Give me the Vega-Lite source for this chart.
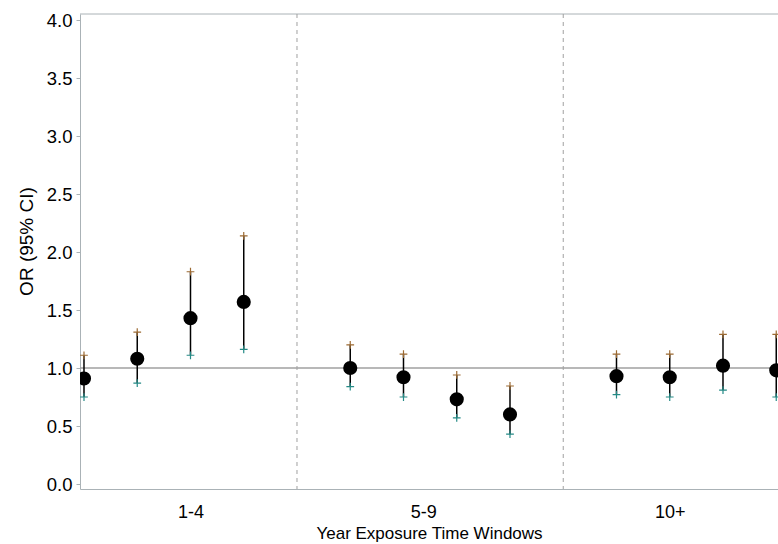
{
  "$schema": "https://vega.github.io/schema/vega-lite/v6.json",
  "autosize": {"type": "none"},
  "width": 698,
  "height": 475,
  "padding": {"left": 80, "top": 14, "right": 0, "bottom": 55},
  "background": "white",
  "config": {
    "view": {"stroke": null},
    "font": "Liberation Sans",
    "axis": {"labelFont": "Liberation Sans", "titleFont": "Liberation Sans", "labelColor": "black", "titleColor": "black", "titleFontWeight": "normal", "grid": false, "domainColor": "#aab2b6", "tickColor": "#aab2b6"}
  },
  "datasets": {
    "est": [
      {"k": 0, "grp": "1-4", "or": 0.91, "lo": 0.75, "hi": 1.11},
      {"k": 1, "grp": "1-4", "or": 1.08, "lo": 0.87, "hi": 1.31},
      {"k": 2, "grp": "1-4", "or": 1.43, "lo": 1.11, "hi": 1.83},
      {"k": 3, "grp": "1-4", "or": 1.57, "lo": 1.16, "hi": 2.14},
      {"k": 5, "grp": "5-9", "or": 1.0, "lo": 0.84, "hi": 1.2},
      {"k": 6, "grp": "5-9", "or": 0.92, "lo": 0.75, "hi": 1.12},
      {"k": 7, "grp": "5-9", "or": 0.73, "lo": 0.57, "hi": 0.94},
      {"k": 8, "grp": "5-9", "or": 0.6, "lo": 0.43, "hi": 0.845},
      {"k": 10, "grp": "10+", "or": 0.93, "lo": 0.77, "hi": 1.12},
      {"k": 11, "grp": "10+", "or": 0.92, "lo": 0.75, "hi": 1.12},
      {"k": 12, "grp": "10+", "or": 1.02, "lo": 0.81, "hi": 1.29},
      {"k": 13, "grp": "10+", "or": 0.98, "lo": 0.75, "hi": 1.29}
    ],
    "dividers": [{"x": 4}, {"x": 9}],
    "refline": [{"y": 1}],
    "frame": [{"y": 4.052}]
  },
  "layer": [
    {
      "data": {"name": "frame"},
      "mark": {"type": "rule", "color": "#aab2b6", "strokeWidth": 1},
      "encoding": {"y": {"field": "y", "type": "quantitative"}}
    },
    {
      "data": {"name": "dividers"},
      "mark": {"type": "rule", "color": "#a0a0a0", "strokeWidth": 1, "strokeDash": [4, 4]},
      "encoding": {"x": {"field": "x", "type": "quantitative"}}
    },
    {
      "data": {"name": "refline"},
      "mark": {"type": "rule", "color": "#a0a0a0", "strokeWidth": 1.5},
      "encoding": {"y": {"field": "y", "type": "quantitative"}}
    },
    {
      "data": {"name": "est"},
      "mark": {"type": "rule", "color": "black", "strokeWidth": 1.5, "clip": true},
      "encoding": {
        "x": {"field": "k", "type": "quantitative"},
        "y": {"field": "lo", "type": "quantitative"},
        "y2": {"field": "hi"}
      }
    },
    {
      "data": {"name": "est"},
      "mark": {"type": "point", "shape": "M-1,0L1,0M0,-1L0,1", "filled": false, "size": 60, "strokeWidth": 1.2, "color": "#9c6a32", "opacity": 1, "clip": true},
      "encoding": {
        "x": {"field": "k", "type": "quantitative"},
        "y": {"field": "hi", "type": "quantitative"}
      }
    },
    {
      "data": {"name": "est"},
      "mark": {"type": "point", "shape": "M-1,0L1,0M0,-1L0,1", "filled": false, "size": 60, "strokeWidth": 1.2, "color": "#248a86", "opacity": 1, "clip": true},
      "encoding": {
        "x": {"field": "k", "type": "quantitative"},
        "y": {"field": "lo", "type": "quantitative"}
      }
    },
    {
      "data": {"name": "est"},
      "mark": {"type": "point", "shape": "circle", "filled": true, "size": 200, "color": "black", "opacity": 1, "clip": true},
      "encoding": {
        "x": {
          "field": "k", "type": "quantitative",
          "scale": {"domain": [-0.075, 13.033], "nice": false, "zero": false},
          "axis": {
            "orient": "bottom",
            "values": [2, 6.37, 11],
            "labelExpr": "datum.value < 4 ? '1-4' : datum.value < 9 ? '5-9' : '10+'",
            "ticks": false,
            "labelFontSize": 18,
            "labelPadding": 14,
            "labelFlush": false,
            "title": "Year Exposure Time Windows",
            "titleFontSize": 17,
            "titlePadding": 4
          }
        },
        "y": {
          "field": "or", "type": "quantitative",
          "scale": {"domain": [-0.043, 4.052], "nice": false, "zero": false},
          "axis": {
            "values": [0, 0.5, 1, 1.5, 2, 2.5, 3, 3.5, 4],
            "format": ".1f",
            "tickSize": 4,
            "labelPadding": 4,
            "labelFontSize": 18.5,
            "title": "OR (95% CI)",
            "titleFontSize": 19,
            "titlePadding": 10,
            "titleY": 227
          }
        }
      }
    }
  ]
}
